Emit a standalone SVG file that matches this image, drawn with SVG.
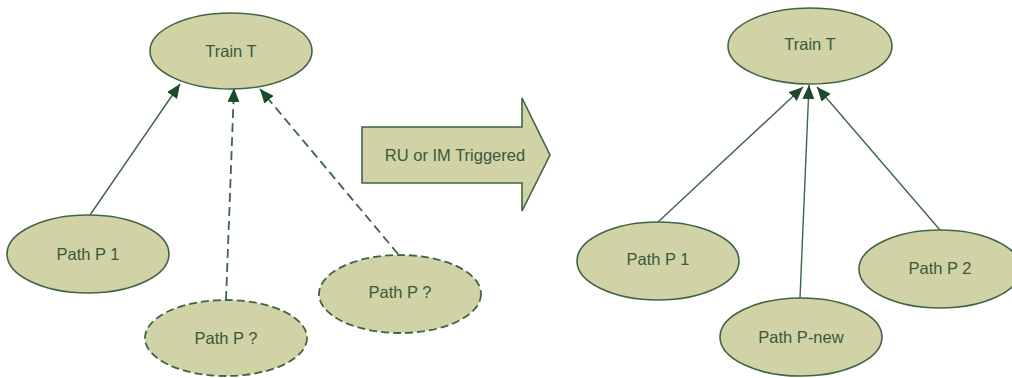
<svg xmlns="http://www.w3.org/2000/svg" width="1012" height="378" viewBox="0 0 1012 378">
  <style>
    .node ellipse { fill: #d1d3a6; stroke: #3f6543; stroke-width: 1.6; }
    .node.dashed ellipse { stroke-dasharray: 8 4; stroke-width: 1.8; }
    .node text, .label { font-family: "Liberation Sans", Arial, sans-serif; font-size: 16.5px; fill: #3a583c; text-anchor: middle; dominant-baseline: central; }
    .edge { stroke: #3f6543; stroke-width: 1.4; fill: none; marker-end: url(#head); }
    .edge.dashed { stroke-dasharray: 9 5; stroke-width: 1.8; }
    .banner { fill: #d1d3a6; stroke: #3f6543; stroke-width: 1.6; }
  </style>
  <defs>
    <marker id="head" viewBox="0 0 14 12" refX="14" refY="6" markerWidth="14" markerHeight="12" markerUnits="userSpaceOnUse" orient="auto">
      <path d="M0,0 L14,6 L0,12 Z" fill="#1d4a2a"/>
    </marker>
  </defs>
  <rect width="1012" height="378" fill="#ffffff"/>

  <!-- connectors -->
  <g id="connectors">
    <line class="edge" x1="90" y1="215" x2="180" y2="84"/>
    <line class="edge dashed" x1="226" y1="300" x2="234" y2="88"/>
    <line class="edge dashed" x1="398" y1="254" x2="260" y2="89"/>
    <line class="edge" x1="658" y1="222" x2="803" y2="87"/>
    <line class="edge" x1="800" y1="298" x2="809" y2="85"/>
    <line class="edge" x1="940" y1="230" x2="817" y2="87"/>
  </g>

  <!-- before -->
  <g id="trainLeft" class="node">
    <ellipse cx="231" cy="51" rx="81" ry="38"/>
    <text x="231" y="51">Train T</text>
  </g>
  <g id="pathP1Left" class="node">
    <ellipse cx="88" cy="254" rx="81" ry="39"/>
    <text x="88" y="254">Path P 1</text>
  </g>
  <g id="pathUnknownA" class="node dashed">
    <ellipse cx="226" cy="338" rx="81" ry="38"/>
    <text x="226" y="338">Path P ?</text>
  </g>
  <g id="pathUnknownB" class="node dashed">
    <ellipse cx="400" cy="294" rx="81" ry="39"/>
    <text x="400" y="292">Path P ?</text>
  </g>

  <!-- transition -->
  <g id="trigger">
    <path class="banner" d="M362,127 L522,127 L522,98 L550,155 L522,211 L522,183 L362,183 Z"/>
    <text class="label" x="455" y="155">RU or IM Triggered</text>
  </g>

  <!-- after -->
  <g id="trainRight" class="node">
    <ellipse cx="810" cy="46" rx="82" ry="38"/>
    <text x="810" y="44">Train T</text>
  </g>
  <g id="pathP1Right" class="node">
    <ellipse cx="658" cy="261" rx="81" ry="39"/>
    <text x="658" y="259">Path P 1</text>
  </g>
  <g id="pathPNew" class="node">
    <ellipse cx="801" cy="337" rx="81" ry="39"/>
    <text x="801" y="337">Path P-new</text>
  </g>
  <g id="pathP2" class="node">
    <ellipse cx="940" cy="269" rx="81" ry="39"/>
    <text x="940" y="268">Path P 2</text>
  </g>
</svg>
